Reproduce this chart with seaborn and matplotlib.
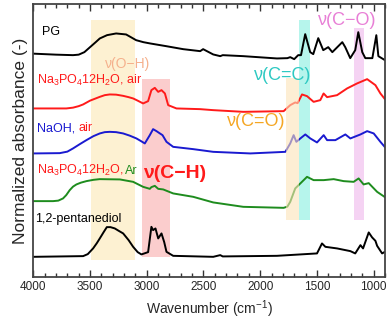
import pandas as pd
import matplotlib
matplotlib.use("Agg")
import matplotlib.pyplot as plt
import seaborn as sns
from matplotlib.ticker import MultipleLocator

# FT-IR spectra, stacked with offsets (normalized absorbance, arbitrary units)
pg_wn = [4000, 3800, 3650, 3600, 3550, 3500, 3450, 3414, 3350, 3270, 3182, 3140, 3094, 3030, 2970,
         2829, 2679, 2529, 2503, 2414, 2352, 2330, 2149, 1852, 1760, 1735, 1700, 1665, 1640, 1603,
         1559, 1532, 1488, 1444, 1400, 1364, 1320, 1276, 1250, 1206, 1162, 1135, 1100, 1073,
         1011, 976, 958, 900]
pg_abs = [223.5, 222.5, 222, 222.5, 225, 230, 235, 238.7, 242, 243.7, 242.7, 240, 237, 235, 233.7,
          231, 228, 226, 228, 222.7, 221, 222, 221, 218.7, 219, 220, 218, 222, 222, 243,
          225, 223, 239, 227, 230, 225, 230, 235, 230, 219, 227, 245, 225, 219,
          219, 242, 221, 217]

na3po4_air_wn = [4000, 3709, 3650, 3600, 3561, 3500, 3414, 3370, 3326, 3270, 3208, 3160, 3120, 3080,
                 3032, 2988, 2959, 2929, 2899, 2870, 2840, 2811, 2738, 2529, 2414, 2149, 1793, 1735,
                 1691, 1670, 1631, 1587, 1529, 1470, 1441, 1410, 1322, 1234, 1146, 1057, 984, 940, 900]
na3po4_air_abs = [168.7, 168.7, 169.5, 171, 172.7, 176.5, 180.3, 182, 182.7, 182.5, 181.3, 180, 178.7, 176.5,
                  173.7, 176, 187, 189.3, 185.3, 187, 183.7, 172, 168.7, 168, 167, 165.3, 166, 172,
                  174.7, 174, 182.7, 181, 175.3, 177, 183.7, 180, 182, 188.7, 193.7, 198, 192, 183.7, 178]

naoh_air_wn = [4000, 3767, 3700, 3650, 3590, 3532, 3470, 3414, 3370, 3326, 3270, 3208, 3150, 3091,
               3050, 3017, 2973, 2944, 2914, 2884, 2861, 2826, 2767, 2590, 2414, 2087, 1778, 1735,
               1705, 1681, 1646, 1602, 1558, 1499, 1440, 1410, 1337, 1249, 1205, 1116, 1057, 999,
               940, 900]
naoh_air_abs = [123.7, 124, 125.5, 128.7, 133, 137, 141, 143.7, 145, 145.3, 145, 143.7, 141.5, 138.7,
                136, 133.7, 142, 148, 146, 143.7, 142, 135.3, 130.3, 128, 125.3, 123.7, 125.3, 133.7,
                142, 135.3, 138.7, 142.7, 138.7, 134.7, 142, 137, 137, 142.7, 138.7, 142.7, 146, 143.7,
                135.3, 130]

na3po4_ar_wn = [4000, 3826, 3780, 3738, 3710, 3679, 3650, 3620, 3580, 3532, 3470, 3414, 3237, 3120,
                3032, 2973, 2959, 2929, 2899, 2855, 2767, 2590, 2414, 2149, 1793, 1760, 1735, 1691,
                1646, 1587, 1529, 1440, 1352, 1264, 1176, 1132, 1088, 1043, 969, 900]
na3po4_ar_abs = [76, 76, 76.5, 78.7, 82, 87, 90.5, 92.7, 94.5, 96, 97.3, 98, 97.7, 95.3,
                 90.3, 88.3, 90, 91.3, 88.3, 87.7, 83.7, 80.3, 74.7, 70.3, 69.3, 70.5, 75.3, 88.7,
                 93.7, 100.3, 97, 97, 98, 96, 95.3, 98.7, 92.7, 94, 85.3, 80]

pentanediol_wn = [4000, 3561, 3520, 3473, 3440, 3414, 3380, 3352, 3320, 3282, 3250, 3208, 3160, 3120,
                  3080, 3047, 2988, 2959, 2944, 2923, 2899, 2870, 2846, 2826, 2767, 2414, 2352, 2330,
                  1852, 1499, 1455, 1425, 1322, 1205, 1162, 1116, 1093, 1043, 1013, 984, 969, 925, 900]
pentanediol_abs = [20.3, 21, 23, 28.7, 34, 38.7, 45, 50, 50, 48.7, 46.5, 43.7, 37, 30.3,
                   25, 22.7, 25, 50.3, 47, 48.7, 38.7, 43.7, 35, 25.3, 21.3, 20.3, 22, 20.7,
                   21.3, 23.7, 33.7, 30.3, 28.7, 26, 23.7, 32, 28.7, 44.7, 39.7, 36.3, 31.3, 23.7, 25.3]

samples = ["PG", "Na3PO4 air", "NaOH air", "Na3PO4 Ar", "1,2-pentanediol"]
sample_colors = ["black", "#ff1a1a", "#1a1ad0", "#1e8c1e", "black"]

# highlighted bands: (low wn, high wn, bottom, top)
band_names = ["OH", "CH", "CO_dbl", "CC_dbl", "CO"]
band_lo = [3105, 2791, 1661, 1558, 1088]
band_hi = [3488, 3041, 1776, 1655, 1170]
band_bottom = [17, 20, 57, 57, 57]
band_top = [257, 198, 199, 257, 249]
band_colors = ["#fdf1d2", "#fbcdcd", "#fde3b8", "#b6f5ec", "#f5d3f3"]

spectra = pd.concat([
    pd.DataFrame({"wn": w, "absorbance": a, "sample": s})
    for w, a, s in [(pg_wn, pg_abs, samples[0]),
                    (na3po4_air_wn, na3po4_air_abs, samples[1]),
                    (naoh_air_wn, naoh_air_abs, samples[2]),
                    (na3po4_ar_wn, na3po4_ar_abs, samples[3]),
                    (pentanediol_wn, pentanediol_abs, samples[4])]
])

sns.set_theme(style="ticks")
plt.rcParams["font.family"] = ["Liberation Sans", "DejaVu Sans"]
plt.rcParams["mathtext.fontset"] = "custom"
plt.rcParams["mathtext.rm"] = "Liberation Sans"

fig = plt.figure(figsize=(3.92, 3.2), dpi=100)
ax = fig.add_axes([0.085, 0.134, 0.897, 0.853])

for name, lo, hi, b, t, c in zip(band_names, band_lo, band_hi, band_bottom, band_top, band_colors):
    z = 3 if name == "CO_dbl" else 0
    a = 0.6 if name == "CO_dbl" else 1
    ax.fill_between([lo, hi], b, t, color=c, lw=0, zorder=z, alpha=a)

sns.lineplot(data=spectra, x="wn", y="absorbance", hue="sample", units="sample",
             estimator=None, palette=dict(zip(samples, sample_colors)),
             linewidth=1.4, legend=False, ax=ax, zorder=2)

ax.set_xlim(4000, 900)
ax.set_ylim(0, 273)
ax.xaxis.set_major_locator(MultipleLocator(500))
ax.xaxis.set_minor_locator(MultipleLocator(100))
ax.set_yticks([])
ax.tick_params(axis="x", which="both", direction="in", top=True, labelsize=8.5,
               color="#333333", pad=3)
ax.tick_params(axis="x", which="major", length=5, width=1)
ax.tick_params(axis="x", which="minor", length=3, width=1)
for sp in ax.spines.values():
    sp.set_color("#444444")
    sp.set_linewidth(1.3)

ax.set_xlabel("Wavenumber (cm$^{-1}$)", fontsize=10, labelpad=4)
ax.set_ylabel("Normalized absorbance (-)", fontsize=12.5, labelpad=4)

fs = 9
na_salt = "Na$_3$PO$_4$12H$_2$O"
ax.text(3923, 242, "PG", fontsize=fs, color="black", va="baseline", zorder=5)
ax.text(3967, 193.5, na_salt + ", air", fontsize=fs, color="#ff1a1a", va="baseline", zorder=5)
t = ax.text(3967, 146, "NaOH, ", fontsize=fs, color="#1a1ad0", va="baseline", zorder=5)
ax.annotate("air", xy=(1, 146), xycoords=(t, "data"), va="baseline", fontsize=fs,
            color="#ff1a1a", zorder=5)
t = ax.text(3967, 103.5, na_salt + ", ", fontsize=fs, color="#ff1a1a", va="baseline", zorder=5)
ax.annotate("Ar", xy=(1, 103.5), xycoords=(t, "data"), va="baseline", fontsize=fs,
            color="#1e8c1e", zorder=5)
ax.text(3985, 55, "1,2-pentanediol", fontsize=fs, color="black", va="baseline", zorder=5)

ax.text(3173, 213, "ν(O−H)", fontsize=10, color="#f5b08c", ha="center", va="center", zorder=5)
ax.text(2757, 103.5, "ν(C−H)", fontsize=14, fontweight="bold", color="#ff1a1a",
        ha="center", va="center", zorder=5)
ax.text(1805, 202, "ν(C=C)", fontsize=13, color="#2ec9c2", ha="center", va="center", zorder=5)
ax.text(2034, 155.5, "ν(C=O)", fontsize=13, color="#f5a623", ha="center", va="center", zorder=5)
ax.text(1234, 257, "ν(C−O)", fontsize=13, color="#e87fd6", ha="center", va="center", zorder=5)

fig.savefig("out.png", dpi=100)
